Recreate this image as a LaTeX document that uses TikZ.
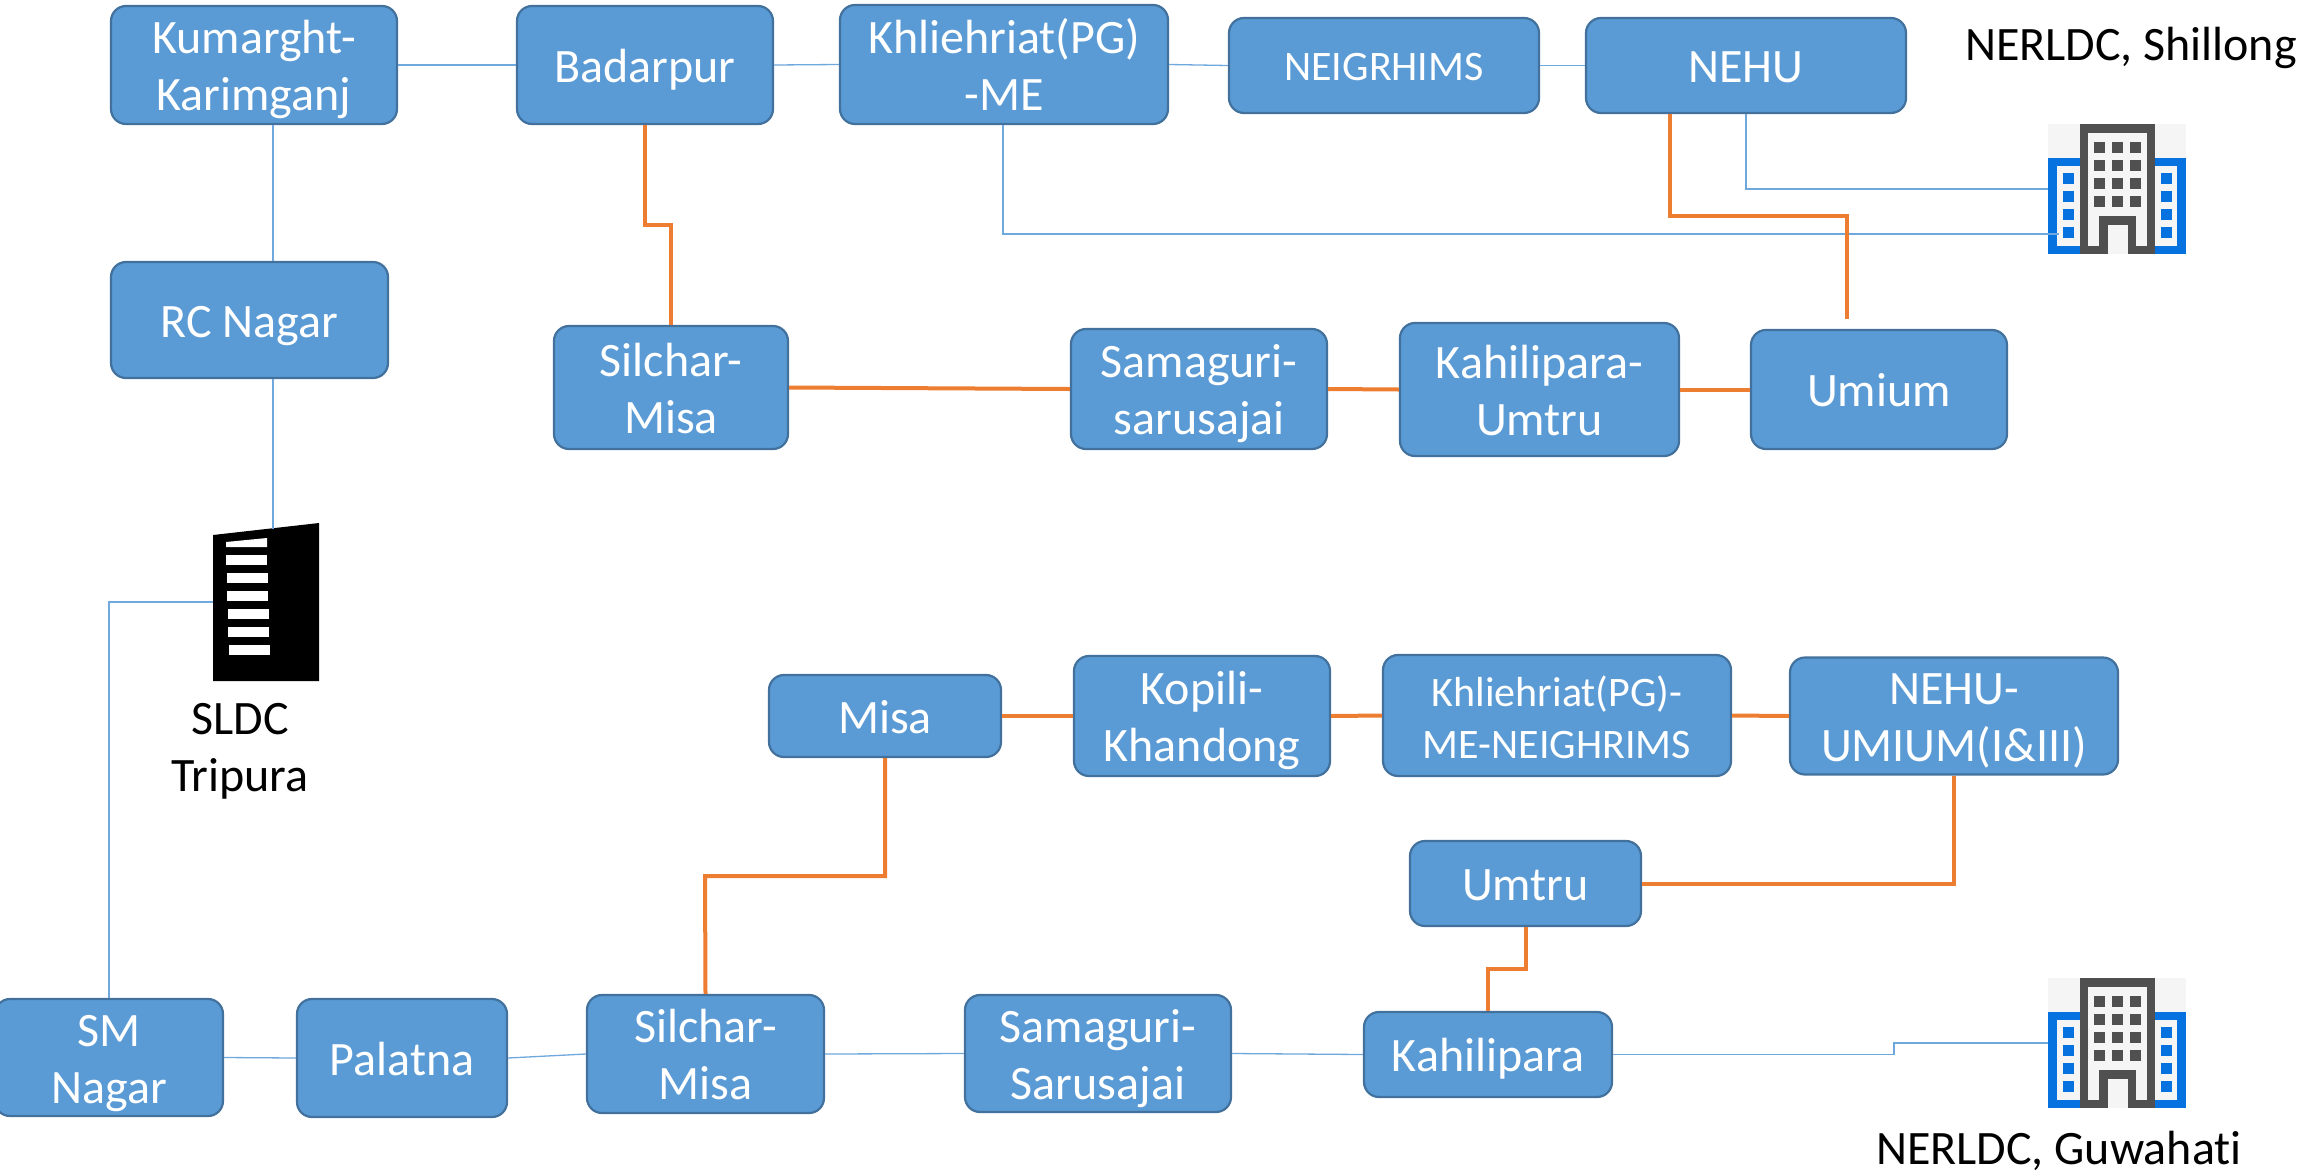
\documentclass[tikz,border=0pt]{standalone}
\usepackage{fontspec}
\setmainfont[Ligatures=NoCommon]{Carlito}
\definecolor{boxfill}{HTML}{5B9BD5}
\definecolor{boxline}{HTML}{41719C}
\definecolor{linkblue}{HTML}{6FA8DC}
\definecolor{linkorange}{HTML}{ED7D31}
\definecolor{iconblue}{HTML}{0672E0}
\definecolor{icondark}{HTML}{505050}
\definecolor{iconlight}{HTML}{F5F5F5}
\tikzset{
  boxnode/.style={draw=boxline,fill=boxfill,line width=1.1pt,rounded corners=7.5pt,text=white,align=center,inner sep=0pt,font=\fontsize{24}{28.5}\selectfont},
  lab/.style={text=black,align=center,inner sep=0pt,font=\fontsize{24}{28.5}\selectfont},
  thin link/.style={draw=linkblue,line width=0.65pt},
  hot link/.style={draw=linkorange,line width=2pt},
}
\newcommand{\smf}{\fontsize{21}{28.5}\selectfont}
\newcommand{\bx}[6]{%
  \pgfmathsetmacro{\bw}{(#4-#2)/2}\pgfmathsetmacro{\bh}{(#5-#3)/2}%
  \pgfmathsetmacro{\cx}{(#2+#4)/2}\pgfmathsetmacro{\cy}{(#3+#5)/2}%
  \node[boxnode,minimum width=\bw pt,minimum height=\bh pt] (#1) at (\cx,\cy) {\rule{0pt}{23.5pt}#6\rule[-6.5pt]{0pt}{6.5pt}};}
\newcommand{\officeicon}[3]{%
  \begin{scope}[shift={(#2,#3)}]
    \coordinate (#1) at (0,65);
    \fill[iconlight] (0,0) rectangle (138,130);
    \fill[iconblue] (0,34) rectangle (138,130);
    \fill[iconlight] (9,42) rectangle (129,122);
    \foreach \wy in {49,67,85,103} {
      \fill[iconblue] (15,\wy) rectangle ++(11,11);
      \fill[iconblue] (113,\wy) rectangle ++(11,11);
    }
    \fill[icondark] (32,0) rectangle (107,130);
    \fill[iconlight] (40,9) rectangle (99,122);
    \foreach \wx in {46,64,82} \foreach \wy in {18,36,54,72}
      \fill[icondark] (\wx,\wy) rectangle ++(11,11);
    \fill[icondark] (51,92) rectangle (88,130);
    \fill[iconlight] (60,101) rectangle (80,130);
  \end{scope}}
\begin{document}
\begin{tikzpicture}[x=0.5pt,y=-0.5pt]
\useasboundingbox (0,0) rectangle (2322,1173);
% icons
\officeicon{shillong}{2048}{124}
\officeicon{guwahati}{2048}{978}
\fill[black] (213,535) -- (319,523) -- (319,681) -- (213,681) -- cycle;
\coordinate (sldctop) at (273,529);
\coordinate (sldcleft) at (213,602);
\fill[white] (226,542) -- (267,538) -- (267,547) -- (226,547) -- cycle;
\foreach \sx/\sy in {226/555,226.5/573,227/591,227.5/609,228/627,228.5/645}
  \fill[white] (\sx,\sy) rectangle ++(41,9.5);
% boxes
\bx{kum}{111}{6}{397}{124}{Kumarght-\\Karimganj}
\bx{bad}{517}{6}{773}{124}{Badarpur}
\bx{khl}{840}{5}{1168}{124}{Khliehriat(PG)\\-ME}
\bx{nei}{1229}{18}{1539}{113}{\raisebox{1pt}{\smf NEIGRHIMS}}
\bx{neh}{1586}{18}{1906}{113}{NEHU}
\bx{rc}{111}{262}{388}{378}{RC Nagar}
\bx{sil}{554}{326}{788}{449}{Silchar-\\Misa}
\bx{sam}{1071}{329}{1327}{449}{Samaguri-\\sarusajai}
\bx{kah}{1400}{323}{1679}{456}{Kahilipara-\\Umtru}
\bx{umi}{1751}{330}{2007}{449}{Umium}
\bx{mis}{769}{675}{1001}{757}{Misa}
\bx{kop}{1074}{656}{1330}{776}{Kopili-\\Khandong}
\bx{kme}{1383}{655}{1731}{776}{\smf Khliehriat(PG)-\\[-2.5pt]\smf ME-NEIGHRIMS}
\bx{num}{1790}{660}{2118}{772}{NEHU-\\UMIUM(I\&III)}
\bx{umt}{1410}{841}{1641}{926}{Umtru}
\bx{sm}{-5}{1002}{223}{1113}{SM\\Nagar}
\bx{pal}{297}{999}{507}{1117}{Palatna}
\bx{smi}{587}{995}{824}{1113}{Silchar-\\Misa}
\bx{ssj}{965}{995}{1231}{1112}{Samaguri-\\Sarusajai}
\bx{kpa}{1364}{1012}{1612}{1097}{Kahilipara}
% labels
\node[lab] (lshillong) at (2131,48) {NERLDC, Shillong};
\node[lab] (lguwahati) at (2059,1151) {NERLDC, Guwahati};
\node[lab] (lsldc) at (240,751) {SLDC\\Tripura};
% blue links
\draw[thin link] (kum.east) -- (bad.west);
\draw[thin link] (bad.east) -- (khl.west);
\draw[thin link] (khl.east) -- (nei.west);
\draw[thin link] (nei.east) -- (neh.west);
\draw[thin link] (kum.south -| sldctop) -- (rc.north -| sldctop);
\draw[thin link] (rc.south -| sldctop) -- (sldctop);
\draw[thin link] (sldcleft) -| (sm.north);
\draw[thin link] (sm.east) -- (pal.west);
\draw[thin link] (pal.east) -- (smi.west);
\draw[thin link] (smi.east) -- (ssj.west);
\draw[thin link] (ssj.east) -- (kpa.west);
\draw[thin link] (kpa.east) -- (1894,1054.5) -- (1894,1043) -- (guwahati |- 0,1043);
\draw[thin link] (neh.south -| 1746,0) |- (shillong |- 0,189);
\draw[thin link] (khl.south -| 1003,0) |- (2059,234);
% orange links
\draw[hot link] (bad.south) |- (671,225) -- (sil.north);
\draw[hot link] (sil.east) -- (sam.west);
\draw[hot link] (sam.east) -- (kah.west);
\draw[hot link] (kah.east) -- (umi.west);
\coordinate (umigap) at (1847,319);
\draw[hot link] (neh.south -| 1670,0) |- (1847,216) -- (umigap);
\draw[hot link] (mis.east) -- (kop.west);
\draw[hot link] (kop.east) -- (kme.west);
\draw[hot link] (kme.east) -- (num.west);
\draw[hot link] (mis.south) |- (705,876) -- (smi.north);
\draw[hot link] (num.south -| 1954,0) |- (umt.east);
\draw[hot link] (umt.south) |- (1488,969) -- (kpa.north);
\end{tikzpicture}
\end{document}
